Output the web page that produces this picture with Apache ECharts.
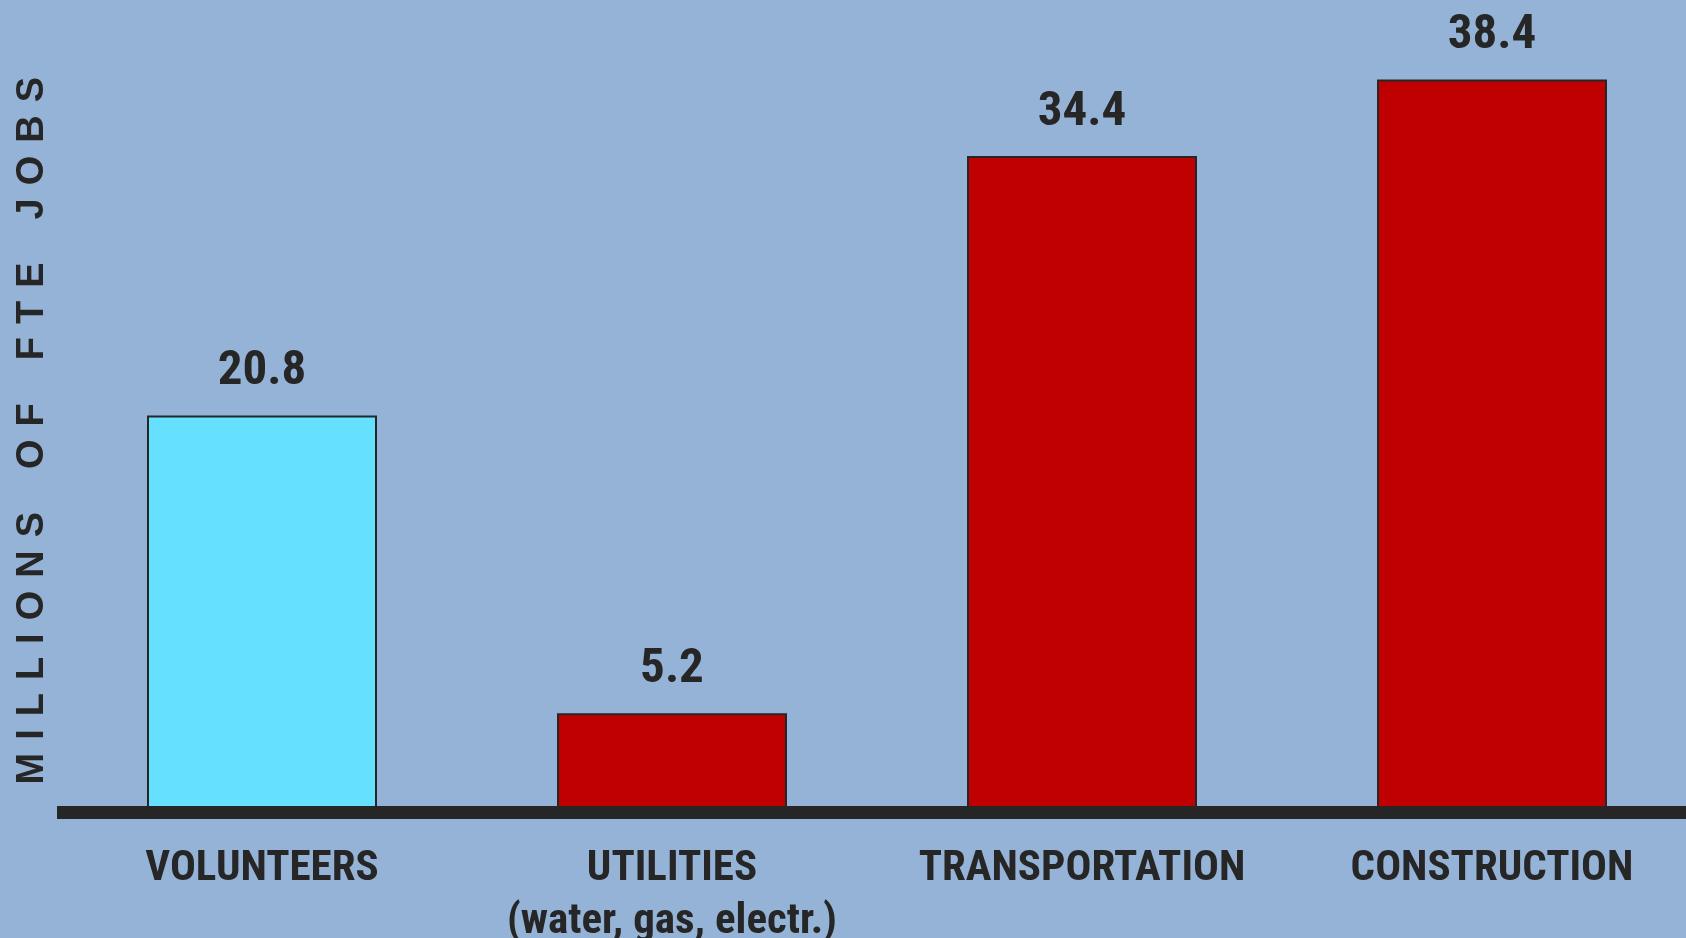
<!DOCTYPE html>
<html>
<head>
<meta charset="utf-8">
<script src="https://cdn.jsdelivr.net/npm/echarts@6/dist/echarts.min.js"></script>
<style>
  html, body { margin: 0; padding: 0; background: #95B3D7; }
  #chart { width: 1686px; height: 938px; }
</style>
</head>
<body>
<div id="chart"></div>
<script>
// ---- data ----
var categories = ['VOLUNTEERS', 'UTILITIES\n(water, gas, electr.)', 'TRANSPORTATION', 'CONSTRUCTION'];
var jobValues = [20.8, 5.2, 34.4, 38.4];
var barColors = ['#66E0FF', '#C00000', '#C00000', '#C00000'];
var yTitleWords = ['MILLIONS', 'OF', 'FTE', 'JOBS'];

var FONT = "'Roboto Condensed', 'Open Sans Condensed', 'DejaVu Sans Condensed', sans-serif";
var TITLE_FONT = "'Liberation Sans', Arial, sans-serif";
var INK = '#262626';

// widely tracked axis title built with rich-text spacers
var yTitle = yTitleWords.map(function (w) { return w.split('').join('{g| }'); }).join('{w| }');

var chart = echarts.init(document.getElementById('chart'), null, { renderer: 'canvas' });
chart.setOption({
  backgroundColor: '#95B3D7',
  animation: false,
  grid: { left: 57, right: -11, top: 49, bottom: 125.5, outerBoundsMode: 'none' },
  xAxis: {
    type: 'category',
    data: categories,
    z: 10,
    axisLine: { show: true, lineStyle: { color: INK, width: 13, cap: 'butt' } },
    axisTick: { show: false },
    axisLabel: {
      interval: 0,
      margin: 30,
      color: INK,
      fontFamily: FONT,
      fontWeight: 'bold',
      fontSize: 43,
      lineHeight: 53
    },
    splitLine: { show: false }
  },
  yAxis: {
    type: 'value',
    min: 0,
    max: 40,
    axisLine: { show: false },
    axisTick: { show: false },
    axisLabel: { show: false },
    splitLine: { show: false },
    name: yTitle,
    nameLocation: 'middle',
    nameRotate: 90,
    nameGap: 5,
    nameTextStyle: {
      color: INK,
      fontFamily: TITLE_FONT,
      fontWeight: 'bold',
      fontSize: 38,
      rich: {
        g: { width: 13, fontSize: 38 },
        w: { width: 43, fontSize: 38 }
      }
    }
  },
  series: [{
    type: 'bar',
    barWidth: 230,
    data: jobValues.map(function (v, i) {
      return { value: v, itemStyle: { color: barColors[i] } };
    }),
    itemStyle: { borderColor: INK, borderWidth: 2 },
    label: {
      show: true,
      position: 'top',
      distance: 19,
      color: INK,
      fontFamily: FONT,
      fontWeight: 'bold',
      fontSize: 49
    }
  }]
});
</script>
</body>
</html>
